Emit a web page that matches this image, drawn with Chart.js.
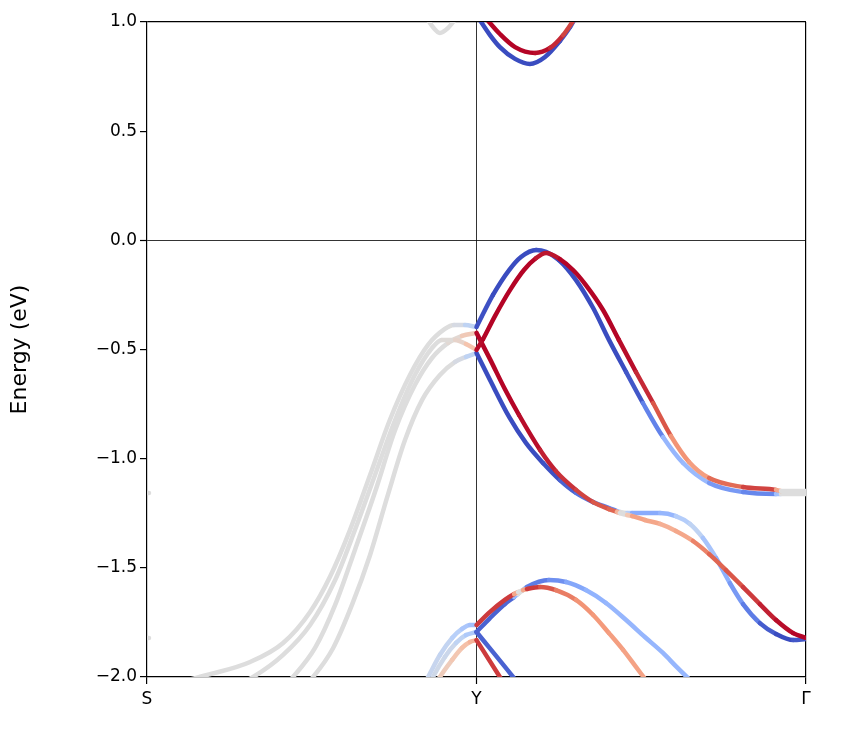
<!DOCTYPE html>
<html><head><meta charset="utf-8">
<script src="https://cdn.jsdelivr.net/npm/chart.js@4.4.1/dist/chart.umd.min.js"></script>
<style>html,body{margin:0;padding:0;background:#fff;}</style>
</head><body>
<canvas id="c" width="861" height="739"></canvas>
<script>
// k-path
const kPathLabels = ['S', 'Y', 'Γ'];
const kPathTicks = [0, 1, 2];
const energyTicks = [-2, -1.5, -1, -0.5, 0, 0.5, 1];

// ---- S–Y segment (gray, unpolarised) ----
const sy1_k = [0.100, 0.182, 0.313, 0.413, 0.495, 0.555, 0.616, 0.677, 0.737, 0.798, 0.853, 0.904, 0.932, 0.965, 1.0];
const sy1_E = [-2.023, -1.991, -1.931, -1.844, -1.702, -1.542, -1.327, -1.075, -0.823, -0.617, -0.479, -0.406, -0.388, -0.388, -0.397];
const sy1_s = [0, 0, 0, 0, 0, 0, 0, 0, 0, 0, 0, 0, 0, -0.1, -0.3];

const sy2_k = [0.252, 0.322, 0.413, 0.495, 0.571, 0.631, 0.692, 0.753, 0.813, 0.865, 0.895, 0.935, 0.968, 1.0];
const sy2_E = [-2.050, -2.000, -1.899, -1.762, -1.556, -1.327, -1.075, -0.823, -0.617, -0.493, -0.456, -0.456, -0.475, -0.502];
const sy2_s = [0, 0, 0, 0, 0, 0, 0, 0, 0, 0, 0, 0.05, 0.15, 0.35];

const sy3_k = [0.404, 0.443, 0.510, 0.571, 0.631, 0.692, 0.753, 0.813, 0.865, 0.914, 0.956, 1.0];
const sy3_E = [-2.060, -2.000, -1.867, -1.670, -1.418, -1.153, -0.869, -0.663, -0.539, -0.470, -0.438, -0.424];
const sy3_s = [0, 0, 0, 0, 0, 0, 0, 0, 0, 0, 0.1, 0.3];

const sy4_k = [0.464, 0.504, 0.565, 0.622, 0.677, 0.731, 0.783, 0.835, 0.889, 0.935, 0.968, 1.0];
const sy4_E = [-2.060, -2.000, -1.867, -1.670, -1.441, -1.166, -0.915, -0.731, -0.617, -0.557, -0.534, -0.516];
const sy4_s = [0, 0, 0, 0, 0, 0, 0, 0, 0, 0, -0.1, -0.3];

const syC_k = [0.844, 0.865, 0.889, 0.914, 0.938];
const syC_E = [1.032, 0.982, 0.950, 0.973, 1.018];
const syC_s = [0, 0, 0, 0, 0];

const syL1_k = [0.835, 0.853, 0.889, 0.926, 0.956, 0.980, 1.0];
const syL1_E = [-2.050, -2.000, -1.899, -1.821, -1.780, -1.762, -1.762];
const syL1_s = [-0.15, -0.15, -0.15, -0.2, -0.3, -0.35, -0.4];

const syL2_k = [0.853, 0.868, 0.904, 0.938, 0.968, 1.0];
const syL2_E = [-2.050, -2.000, -1.908, -1.844, -1.808, -1.794];
const syL2_s = [-0.1, -0.1, -0.1, -0.15, -0.25, -0.35];

const syL3_k = [0.871, 0.889, 0.926, 0.956, 0.980, 1.0];
const syL3_E = [-2.050, -2.000, -1.922, -1.867, -1.840, -1.831];
const syL3_s = [0.15, 0.15, 0.2, 0.25, 0.3, 0.4];

const sMark1_k = [0, 0.006];
const sMark1_E = [-1.157, -1.157];
const sMark2_k = [0, 0.006];
const sMark2_E = [-1.821, -1.821];
const sMark_s = [0, 0];

// ---- Y–Γ segment (spin-projected) ----
const cbBlue_k = [1.0, 1.041, 1.071, 1.117, 1.162, 1.208, 1.253, 1.284, 1.305];
const cbBlue_E = [1.032, 0.940, 0.885, 0.831, 0.808, 0.840, 0.913, 0.977, 1.032];
const cbBlue_s = [-1, -1, -1, -1, -1, -1, -1, -0.95, -0.9];

const cbRed_k = [1.020, 1.071, 1.117, 1.178, 1.223, 1.263, 1.299];
const cbRed_E = [1.032, 0.945, 0.885, 0.858, 0.881, 0.940, 1.018];
const cbRed_s = [1, 1, 1, 1, 0.95, 0.85, 0.8];

const vbBlueUp_k = [1.0, 1.050, 1.099, 1.135, 1.181, 1.211, 1.250, 1.302, 1.354, 1.402, 1.454, 1.505, 1.566, 1.627, 1.706, 1.809, 1.909, 1.924, 2.0];
const vbBlueUp_E = [-0.397, -0.250, -0.136, -0.076, -0.044, -0.053, -0.090, -0.182, -0.310, -0.456, -0.603, -0.745, -0.901, -1.020, -1.111, -1.153, -1.162, -1.162, -1.162];
const vbBlueUp_s = [-0.95, -1, -1, -1, -1, -0.95, -1, -1, -1, -1, -1, -0.9, -0.6, -0.3, -0.55, -0.7, -0.75, 0, 0];

const vbRedUp_k = [1.0, 1.020, 1.056, 1.102, 1.144, 1.181, 1.211, 1.253, 1.293, 1.332, 1.384, 1.432, 1.484, 1.536, 1.590, 1.645, 1.706, 1.809, 1.909, 1.924, 2.0];
const vbRedUp_E = [-0.502, -0.452, -0.347, -0.227, -0.136, -0.081, -0.058, -0.086, -0.136, -0.205, -0.319, -0.456, -0.603, -0.745, -0.896, -1.015, -1.089, -1.130, -1.143, -1.148, -1.148];
const vbRedUp_s = [0.95, 1, 1, 1, 1, 1, 0.9, 1, 1, 1, 1, 1, 0.95, 0.85, 0.7, 0.35, 0.6, 0.8, 0.85, 0, 0];

const vbBlueDn_k = [1.0, 1.041, 1.099, 1.150, 1.202, 1.253, 1.302, 1.354, 1.402, 1.426, 1.435, 1.457, 1.472, 1.557, 1.605, 1.648, 1.687, 1.727, 1.769, 1.809, 1.860, 1.909, 1.961, 2.0];
const vbBlueDn_E = [-0.516, -0.640, -0.809, -0.928, -1.020, -1.098, -1.157, -1.199, -1.226, -1.240, -1.244, -1.249, -1.249, -1.249, -1.263, -1.299, -1.363, -1.455, -1.570, -1.666, -1.753, -1.803, -1.831, -1.826];
const vbBlueDn_s = [-1, -1, -1, -1, -1, -0.95, -0.85, -0.8, -0.75, -0.7, 0, 0, -0.55, -0.5, -0.4, -0.15, -0.25, -0.45, -0.55, -0.7, -0.85, -1, -1, -0.9];

const vbRedDn_k = [1.0, 1.041, 1.086, 1.129, 1.193, 1.241, 1.302, 1.354, 1.402, 1.426, 1.435, 1.457, 1.472, 1.511, 1.557, 1.605, 1.657, 1.706, 1.757, 1.809, 1.860, 1.909, 1.961, 2.0];
const vbRedDn_E = [-0.424, -0.544, -0.681, -0.800, -0.960, -1.057, -1.143, -1.199, -1.231, -1.244, -1.249, -1.258, -1.263, -1.281, -1.299, -1.331, -1.377, -1.437, -1.510, -1.588, -1.666, -1.739, -1.799, -1.821];
const vbRedDn_s = [1, 1, 1, 1, 0.95, 0.9, 0.85, 0.8, 0.75, 0.7, 0, 0, 0.45, 0.45, 0.4, 0.35, 0.5, 0.7, 0.75, 0.8, 0.9, 0.95, 1, 1];

const lbRedUp_k = [1.0, 1.041, 1.086, 1.114, 1.126, 1.141, 1.153, 1.193, 1.241, 1.302, 1.354, 1.402, 1.445, 1.484, 1.514];
const lbRedUp_E = [-1.762, -1.702, -1.647, -1.620, -1.611, -1.602, -1.597, -1.588, -1.602, -1.647, -1.716, -1.799, -1.876, -1.954, -2.014];
const lbRedUp_s = [0.85, 0.85, 0.85, 0.85, 0, 0, 0.85, 0.85, 0.7, 0.55, 0.5, 0.5, 0.45, 0.45, 0.45];

const lbBlueUp_k = [1.0, 1.041, 1.086, 1.114, 1.126, 1.141, 1.153, 1.220, 1.272, 1.332, 1.393, 1.454, 1.511, 1.566, 1.605, 1.648];
const lbBlueUp_E = [-1.794, -1.730, -1.666, -1.634, -1.620, -1.602, -1.588, -1.556, -1.565, -1.602, -1.661, -1.739, -1.817, -1.890, -1.950, -2.014];
const lbBlueUp_s = [-0.9, -0.9, -0.9, -0.85, 0, 0, -0.8, -0.75, -0.6, -0.5, -0.45, -0.45, -0.45, -0.45, -0.45, -0.45];

const lbRedDn_k = [1.0, 1.071, 1.102];
const lbRedDn_E = [-1.831, -2.0, -2.073];
const lbRedDn_s = [0.85, 0.85, 0.85];

const lbBlueDn_k = [1.0, 1.111, 1.132];
const lbBlueDn_E = [-1.794, -2.0, -2.041];
const lbBlueDn_s = [-0.9, -0.9, -0.9];

// coolwarm colormap
const CW = [[58,76,192],[98,130,234],[141,176,254],[184,208,249],[221,221,221],[245,196,173],[244,154,123],[222,96,77],[180,4,38]];
function coolwarm(s) {
  let t = Math.max(0, Math.min(1, (s + 1) / 2)) * (CW.length - 1);
  const i = Math.min(CW.length - 2, Math.floor(t));
  const f = t - i;
  const c = CW[i].map((v, j) => Math.round(v + (CW[i + 1][j] - v) * f));
  return `rgb(${c[0]},${c[1]},${c[2]})`;
}
function band(k, E, s, order) {
  return {
    data: k.map((x, i) => ({ x: x, y: E[i] })),
    borderColor: coolwarm(s[0]),
    segment: { borderColor: ctx => coolwarm((s[ctx.p0DataIndex] + s[ctx.p1DataIndex]) / 2) },
    borderWidth: 4.5, pointRadius: 0, fill: false,
    cubicInterpolationMode: 'monotone', borderCapStyle: 'round', borderJoinStyle: 'round',
    order: order
  };
}
const datasets = [
  band(sy1_k, sy1_E, sy1_s, 3), band(sy2_k, sy2_E, sy2_s, 3), band(sy3_k, sy3_E, sy3_s, 3), band(sy4_k, sy4_E, sy4_s, 3),
  band(syC_k, syC_E, syC_s, 3),
  band(syL1_k, syL1_E, syL1_s, 2), band(syL2_k, syL2_E, syL2_s, 2), band(syL3_k, syL3_E, syL3_s, 2),
  band(sMark1_k, sMark1_E, sMark_s, 3), band(sMark2_k, sMark2_E, sMark_s, 3),
  band(cbBlue_k, cbBlue_E, cbBlue_s, 1), band(cbRed_k, cbRed_E, cbRed_s, 0),
  band(vbBlueUp_k, vbBlueUp_E, vbBlueUp_s, 1), band(vbRedUp_k, vbRedUp_E, vbRedUp_s, 0),
  band(vbBlueDn_k, vbBlueDn_E, vbBlueDn_s, 1), band(vbRedDn_k, vbRedDn_E, vbRedDn_s, 0),
  band(lbRedUp_k, lbRedUp_E, lbRedUp_s, 0), band(lbBlueUp_k, lbBlueUp_E, lbBlueUp_s, 1),
  band(lbRedDn_k, lbRedDn_E, lbRedDn_s, 0), band(lbBlueDn_k, lbBlueDn_E, lbBlueDn_s, 1)
];

const FONT = 'DejaVu Sans';
function fmt(v) { const a = Math.abs(v).toFixed(1); return v < 0 ? '\u2212' + a : a; }

new Chart(document.getElementById('c'), {
  type: 'line',
  data: { datasets: datasets },
  options: {
    responsive: false, animation: false, devicePixelRatio: 1,
    layout: { padding: { left: 0, right: 55, top: 22, bottom: 0 } },
    plugins: { legend: { display: false }, tooltip: { enabled: false } },
    scales: {
      x: {
        type: 'linear', min: 0, max: 2,
        afterBuildTicks: sc => { sc.ticks = kPathTicks.map(v => ({ value: v })); },
        afterFit: sc => { sc.height = 62; },
        ticks: { callback: v => kPathLabels[kPathTicks.indexOf(v)], font: { family: FONT, size: 17 }, color: '#000', padding: 5, maxRotation: 0, autoSkip: false },
        grid: {
          color: c => (c.tick && (c.tick.value === 1 || c.tick.value === 2)) ? '#000' : 'rgba(0,0,0,0)',
          lineWidth: c => (c.tick && c.tick.value === 1) ? 0.8 : 1.2,
          tickColor: '#000', tickWidth: 1.2, tickLength: 7
        },
        border: { color: '#000', width: 1.2 }
      },
      y: {
        type: 'linear', min: -2, max: 1,
        afterBuildTicks: sc => { sc.ticks = energyTicks.map(v => ({ value: v })); },
        afterFit: sc => { sc.width = 147; },
        ticks: { callback: v => fmt(v), font: { family: FONT, size: 17 }, color: '#000', padding: 3 },
        grid: {
          color: c => (c.tick && (c.tick.value === 0 || c.tick.value === 1)) ? '#000' : 'rgba(0,0,0,0)',
          lineWidth: c => (c.tick && c.tick.value === 0) ? 0.8 : 1.2,
          tickColor: '#000', tickWidth: 1.2, tickLength: 7
        },
        border: { color: '#000', width: 1.2 },
        title: { display: true, text: 'Energy (eV)', font: { family: FONT, size: 22 }, color: '#000', padding: { top: 7, bottom: 0 } }
      }
    }
  }
});
</script>
</body></html>
